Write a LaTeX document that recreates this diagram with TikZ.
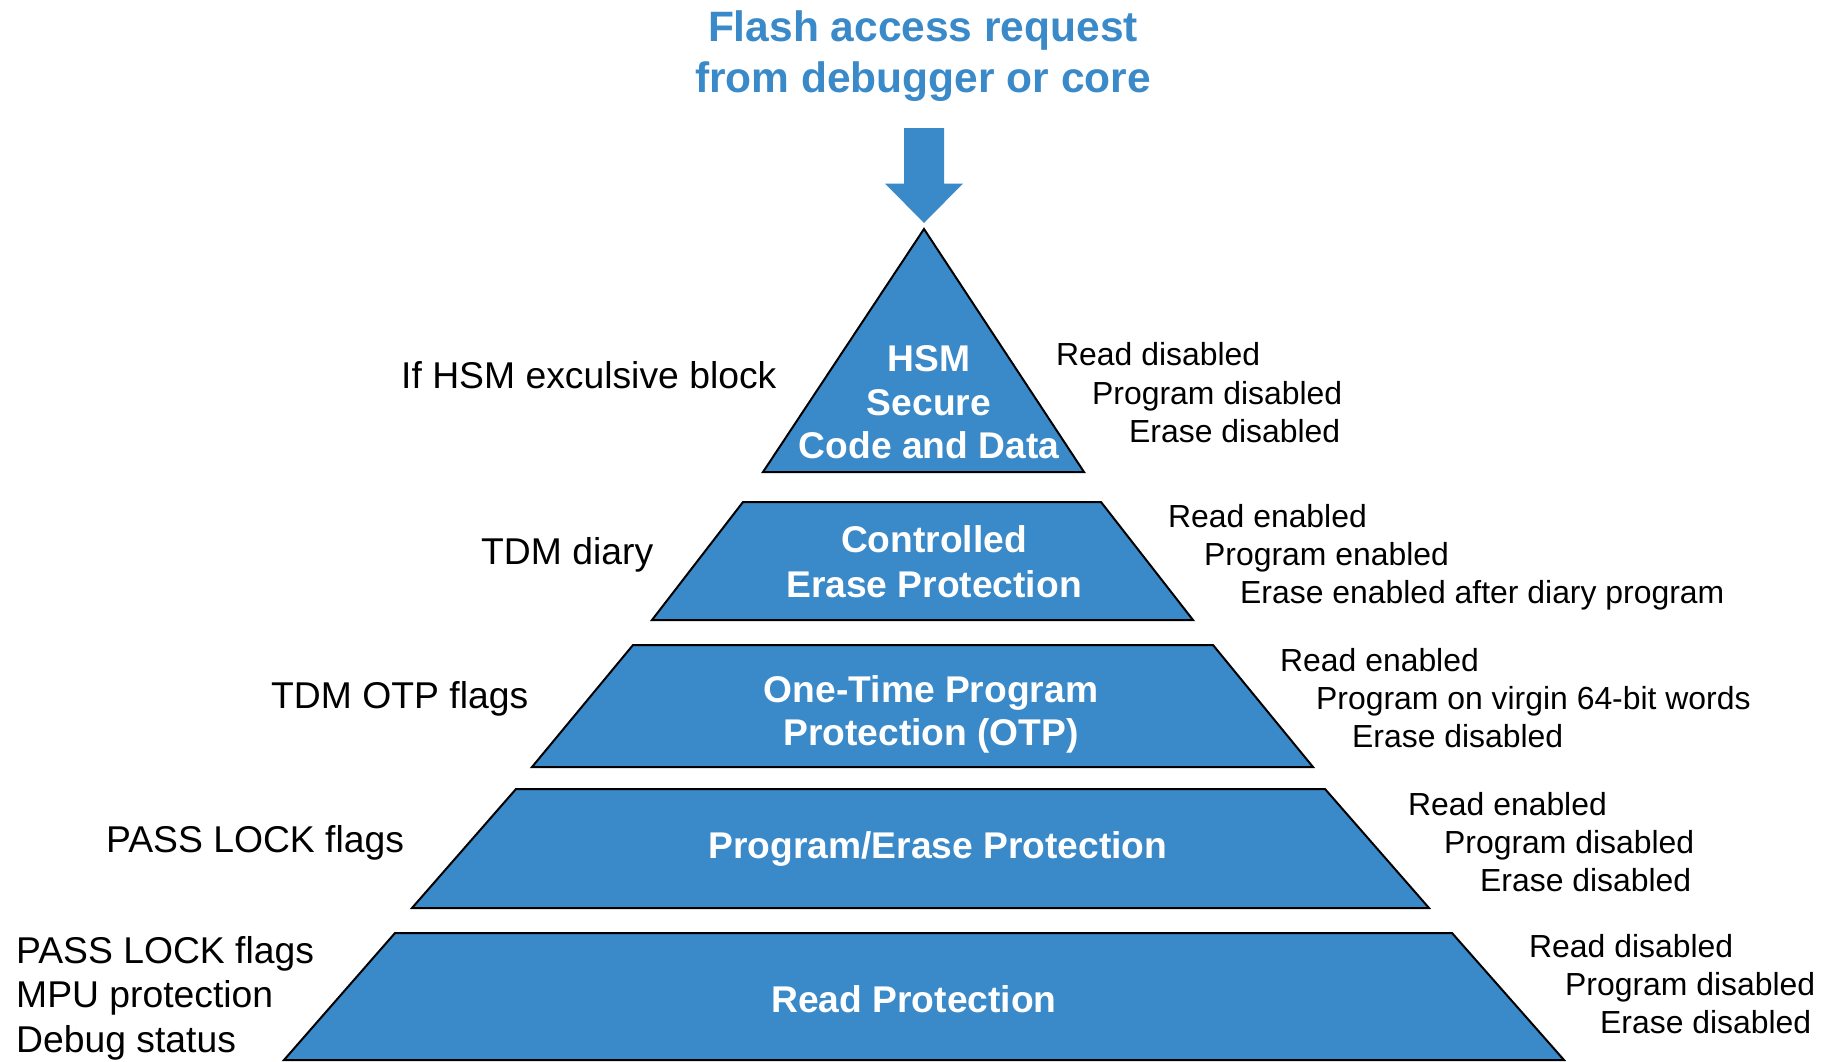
\documentclass[tikz,border=0pt]{standalone}
\usepackage{fontspec}
\setmainfont{Liberation Sans}
\definecolor{flashblue}{RGB}{58,137,201}
\begin{document}
\begin{tikzpicture}[x=1pt,y=-1pt,
  layer/.style={draw=black, line width=2pt, fill=flashblue, line join=miter},
  inner/.style={font=\bfseries\fontsize{37.2}{44.5}\selectfont, text=white, anchor=base, inner sep=0pt},
  titletext/.style={font=\bfseries\fontsize{42.5}{50}\selectfont, text=flashblue, anchor=base, inner sep=0pt},
  leftlbl/.style={font=\fontsize{37.3}{44.5}\selectfont, anchor=base west, inner sep=0pt},
  rightlbl/.style={font=\fontsize{31.9}{38.3}\selectfont, anchor=base west, inner sep=0pt}]
\useasboundingbox (0,0) rectangle (1821,1061);

% heading and request arrow
\node[titletext] (t1) at (923,41) {Flash access request};
\node[titletext] (t2) at (923,92) {from debugger or core};
\fill[flashblue] (904,128) -- (944,128) -- (944,183.5) -- (963,183.5)
  -- (924,223) -- (885,183.5) -- (904,183.5) -- cycle;

% protection layers, top to bottom
\draw[layer] (924,229) -- (1084,472) -- (763,472) -- cycle;
\draw[layer] (743,502) -- (1101,502) -- (1193,620) -- (652,620) -- cycle;
\draw[layer] (633,645) -- (1213,645) -- (1313,767) -- (532,767) -- cycle;
\draw[layer] (516,789) -- (1325,789) -- (1429,908) -- (412,908) -- cycle;
\draw[layer] (395,933) -- (1452,933) -- (1564,1060) -- (284,1060) -- cycle;

% layer names
\node[inner] (hsm1) at (929,371) {HSM};
\node[inner] (hsm2) at (929,415) {Secure};
\node[inner] (hsm3) at (929,458) {Code and Data};
\node[inner] (cep1) at (934,552) {Controlled};
\node[inner] (cep2) at (934,597) {Erase Protection};
\node[inner] (otp1) at (931,702) {One-Time Program};
\node[inner] (otp2) at (931,745) {Protection (OTP)};
\node[inner] (pep) at (938,858) {Program/Erase Protection};
\node[inner] (rp) at (914,1012) {Read Protection};

% conditions on the left
\node[leftlbl] (l1) at (401,388) {If HSM exculsive block};
\node[leftlbl] (l2) at (481,564) {TDM diary};
\node[leftlbl] (l3) at (271,708) {TDM OTP flags};
\node[leftlbl] (l4) at (106,852) {PASS LOCK flags};
\node[leftlbl] (l5a) at (16,963) {PASS LOCK flags};
\node[leftlbl] (l5b) at (16,1007.5) {MPU protection};
\node[leftlbl] (l5c) at (16,1052) {Debug status};

% resulting access rights on the right
\node[rightlbl] (r1a) at (1056,365) {Read disabled};
\node[rightlbl] (r1b) at (1092,404) {Program disabled};
\node[rightlbl] (r1c) at (1129,442) {Erase disabled};
\node[rightlbl] (r2a) at (1168,527) {Read enabled};
\node[rightlbl] (r2b) at (1204,565) {Program enabled};
\node[rightlbl] (r2c) at (1240,603) {Erase enabled after diary program};
\node[rightlbl] (r3a) at (1280,671) {Read enabled};
\node[rightlbl] (r3b) at (1316,709) {Program on virgin 64-bit words};
\node[rightlbl] (r3c) at (1352,747) {Erase disabled};
\node[rightlbl] (r4a) at (1408,815) {Read enabled};
\node[rightlbl] (r4b) at (1444,853) {Program disabled};
\node[rightlbl] (r4c) at (1480,891) {Erase disabled};
\node[rightlbl] (r5a) at (1529,957) {Read disabled};
\node[rightlbl] (r5b) at (1565,995) {Program disabled};
\node[rightlbl] (r5c) at (1600,1033) {Erase disabled};
\end{tikzpicture}
\end{document}
